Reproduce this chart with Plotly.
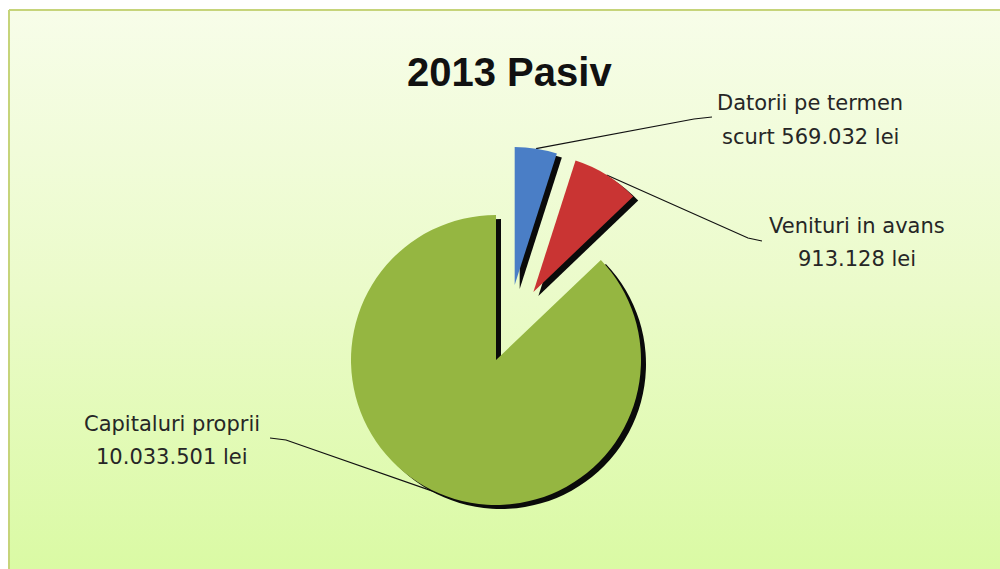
import math
import plotly.graph_objects as go

# ---------------- data ----------------
title_text = "2013 Pasiv"
categories = ["Datorii pe termen scurt", "Venituri in avans", "Capitaluri proprii"]
values = [569032, 913128, 10033501]
label_first = ["Datorii pe termen", "Venituri in avans", "Capitaluri proprii"]
label_prefix = ["scurt ", "", ""]


def lei(v):
    return f"{v:,}".replace(",", ".") + " lei"


label_second = [p + lei(v) for p, v in zip(label_prefix, values)]

# ---------------- style / layout ----------------
W, H = 1000, 569
slice_colors = ["#4a7ec6", "#c93433", "#95b641"]
CLEAR = "rgba(0,0,0,0)"
SHADOW = "#0a0a0a"
SHADOW_DX, SHADOW_DY = 5, 4
pulled = [True, True, False]

MAIN_C, MAIN_R = (496, 360), 145          # un-exploded slice (pixels)
PULL_C, PULL_R, PULL = (507, 334), 138, 0.36  # exploded slices

label_xy = [(810, 103, 137), (857, 226, 259), (172, 424, 457)]
leader_ends = [[(694, 119), (712, 117)], [(748, 238), (762, 241)], [(286, 440), (270, 438)]]


def domain(cx, cy, half, dx=0, dy=0):
    cx += dx
    cy += dy
    return dict(x=[(cx - half) / W, (cx + half) / W],
                y=[1 - (cy + half) / H, 1 - (cy - half) / H])


def pie(colors, pulls, dom):
    return go.Pie(values=values, labels=categories, sort=False, direction="clockwise",
                  rotation=0, marker=dict(colors=colors, line=dict(width=0)),
                  pull=pulls, domain=dom, textinfo="none", hoverinfo="skip",
                  showlegend=False)


fig = go.Figure()

# background panel with vertical gradient
fig.add_trace(go.Scatter(
    x=[9, 1020, 1020, 9, 9], y=[10, 10, 590, 590, 10], mode="lines",
    line=dict(color="#c6d47a", width=2), fill="toself",
    fillgradient=dict(type="vertical", start=10, stop=569,
                      colorscale=[[0, "#f7fde9"], [0.5, "#ebfbca"], [1, "#dafaa4"]]),
    hoverinfo="skip", showlegend=False))

# leader lines (computed from slice angles)
total = sum(values)
cum = 0
mids = []
for v in values:
    mids.append(math.radians(360 * (cum + v / 2) / total))
    cum += v


def arc_point(i):
    m = mids[i]
    ux, uy = math.sin(m), -math.cos(m)
    if pulled[i]:
        cx = PULL_C[0] + PULL * PULL_R * ux
        cy = PULL_C[1] + PULL * PULL_R * uy
        r = PULL_R
    else:
        cx, cy = MAIN_C
        r = MAIN_R
    return cx + r * ux, cy + r * uy


for i in range(len(values)):
    ax, ay = arc_point(i)
    pts = [(ax, ay)] + leader_ends[i]
    fig.add_trace(go.Scatter(x=[p[0] for p in pts], y=[p[1] for p in pts], mode="lines",
                             line=dict(color="#111111", width=1.2), hoverinfo="skip",
                             showlegend=False))

pull_half = PULL_R * (1 + PULL)
pulls = [PULL if p else 0 for p in pulled]
zero = [0, 0, 0]
# shadows
fig.add_trace(pie([SHADOW if p else CLEAR for p in pulled], pulls,
                  domain(*PULL_C, pull_half, SHADOW_DX, SHADOW_DY)))
fig.add_trace(pie([CLEAR if p else SHADOW for p in pulled], zero,
                  domain(*MAIN_C, MAIN_R, SHADOW_DX, SHADOW_DY)))
# slices
fig.add_trace(pie([CLEAR if p else c for p, c in zip(pulled, slice_colors)], zero,
                  domain(*MAIN_C, MAIN_R)))
fig.add_trace(pie([c if p else CLEAR for p, c in zip(pulled, slice_colors)], pulls,
                  domain(*PULL_C, pull_half)))

annotations = []
for i in range(len(values)):
    x, y1, y2 = label_xy[i]
    for txt, yy in ((label_first[i], y1), (label_second[i], y2)):
        annotations.append(dict(x=x, y=yy, xref="x", yref="y", text=txt, showarrow=False,
                                xanchor="center", yanchor="middle",
                                font=dict(family="DejaVu Sans", size=21, color="#262626")))
annotations.append(dict(x=509, y=72, xref="x", yref="y", text=title_text, showarrow=False,
                        xanchor="center", yanchor="middle",
                        font=dict(family="Liberation Sans, Arial", size=40,
                                  color="#111111", weight="bold")))

fig.update_layout(
    width=W, height=H, margin=dict(l=0, r=0, t=0, b=0),
    paper_bgcolor="white", plot_bgcolor="white",
    xaxis=dict(range=[0, W], visible=False, fixedrange=True),
    yaxis=dict(range=[H, 0], visible=False, fixedrange=True),
    annotations=annotations, showlegend=False,
)

fig.write_html("out.html",
               config={"displayModeBar": False},
               post_script="document.body.style.margin='0px';"
                           "document.body.style.overflow='hidden';")
